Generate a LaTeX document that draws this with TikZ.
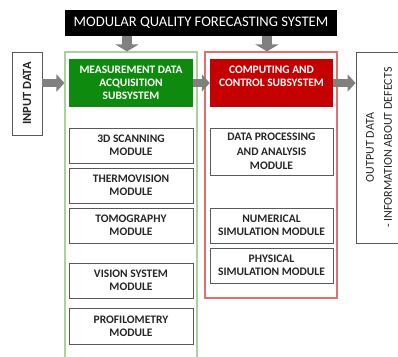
\documentclass[tikz,border=0pt]{standalone}
\usepackage{fontspec}
\setmainfont{Carlito}
\usetikzlibrary{arrows.meta}
\definecolor{gfill}{HTML}{0E8A0E}
\definecolor{rfill}{HTML}{C40000}
\definecolor{gline}{HTML}{A9D39A}
\definecolor{rline}{HTML}{E07070}
\definecolor{agray}{HTML}{808080}
\definecolor{txt}{HTML}{262626}
\begin{document}
\begin{tikzpicture}[x=1pt,y=-1pt,
  modbox/.style={draw=black!65, line width=0.9pt, minimum width=124pt, inner sep=0pt,
    align=center, font=\fontsize{11.5}{13}\selectfont\bfseries, text=txt},
  subbox/.style={minimum width=124pt, minimum height=48pt, inner sep=0pt, align=center,
    font=\fontsize{11.4}{13}\selectfont\bfseries, text=white},
  frame/.style={line width=1.1pt, minimum width=132pt, inner sep=0pt},
  sidebox/.style={draw=black!65, line width=0.9pt, inner sep=0pt},
  harrow/.style={draw=agray, line width=8pt, -{Triangle[width=17pt,length=8pt]}},
  varrow/.style={draw=agray, line width=10pt, -{Triangle[width=23pt,length=7pt]}}]
\clip (0,0) rectangle (398,356);
% title
\node[fill=black, minimum width=272pt, minimum height=26pt, inner sep=0pt, text=white,
  font=\fontsize{14.6}{16}\selectfont] (title) at (201,23) {MODULAR QUALITY FORECASTING SYSTEM};
% frames
\node[frame, draw=gline, minimum height=310pt] (gout) at (131,207) {};
\node[frame, draw=rline, minimum height=246pt] (rout) at (271,175) {};
% subsystems
\node[subbox, fill=gfill] (gsub) at (131,83) {MEASUREMENT DATA\\ACQUISITION\\SUBSYSTEM};
\node[subbox, fill=rfill, minimum width=123pt] (rsub) at (271.5,83) {COMPUTING AND\\CONTROL SUBSYSTEM\\~};
% side boxes
\node[sidebox, minimum width=30pt, minimum height=83pt] (inp) at (27,93.5) {};
\node[rotate=90, font=\fontsize{12.5}{14}\selectfont\bfseries, text=txt] (inptxt) at (inp.center) {INPUT DATA};
\node[sidebox, minimum width=46pt, minimum height=191pt] (outp) at (379,147.5) {};
\node[rotate=90, align=center, font=\fontsize{12}{18}\selectfont, text=txt] (outtxt) at (outp.center) {OUTPUT DATA\\- INFORMATION ABOUT DEFECTS};
% left modules
\node[modbox, minimum height=35pt] (scan) at (131,145.5) {3D SCANNING\\MODULE};
\node[modbox, minimum height=35pt] (thermo) at (131,185.5) {THERMOVISION\\MODULE};
\node[modbox, minimum height=35pt] (tomo) at (131,225.5) {TOMOGRAPHY\\MODULE};
\node[modbox, minimum height=35pt] (vis) at (131,280.5) {VISION SYSTEM\\MODULE};
\node[modbox, minimum height=36pt] (prof) at (131,326) {PROFILOMETRY\\MODULE};
% right modules
\node[modbox, minimum width=123pt, minimum height=47pt, font=\fontsize{11.5}{14.5}\selectfont\bfseries] (dpa) at (271.5,151.5) {DATA PROCESSING\\AND ANALYSIS\\MODULE};
\node[modbox, minimum width=123pt, minimum height=35pt] (num) at (271.5,225.5) {NUMERICAL\\SIMULATION MODULE};
\node[modbox, minimum width=123pt, minimum height=35pt] (phys) at (271.5,265.5) {PHYSICAL\\SIMULATION MODULE};
% arrows
\draw[varrow] ([xshift=-4pt]title.south -| gout.north) -- ([xshift=-4pt]gout.north);
\draw[varrow] ([xshift=-4pt]title.south -| rout.north) -- ([xshift=-4pt]rout.north);
\draw[harrow] (inp.east |- gsub) -- (gout.west |- gsub);
\draw[harrow] (gsub.east) -- (rsub.west);
\draw[harrow] (rsub.east) -- (outp.west |- rsub);
\end{tikzpicture}
\end{document}
